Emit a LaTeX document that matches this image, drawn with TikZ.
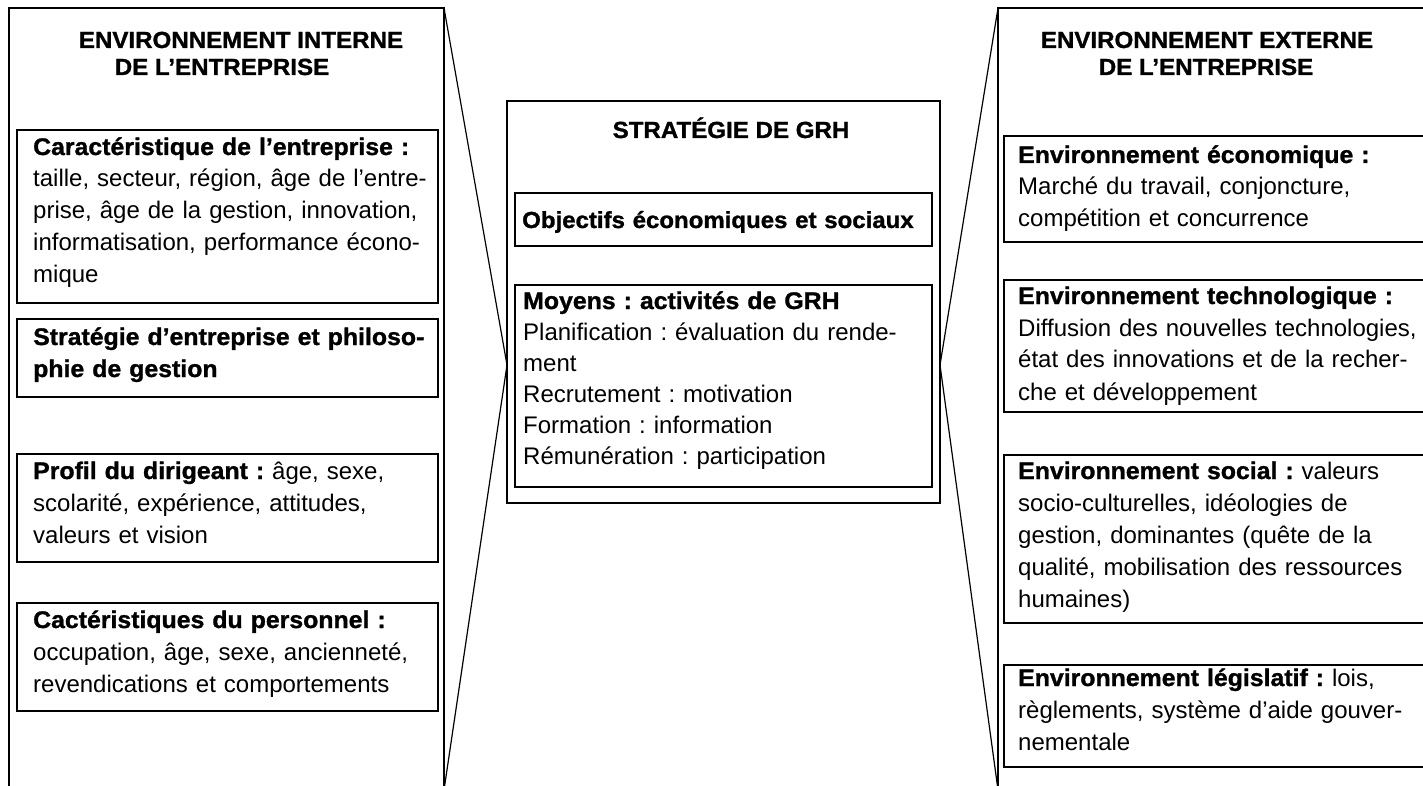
\documentclass[tikz,border=0pt]{standalone}
\usepackage{fontspec}
\setmainfont{Liberation Sans}[BoldFeatures={FakeStretch=1.035,FakeBold=1.2}]
\begin{document}
\frenchspacing
\begin{tikzpicture}[x=1pt,y=-1pt,
  frame/.style={draw, line width=1.2pt},
  ibox/.style={draw, line width=1.1pt, anchor=north west, inner sep=0pt, outer sep=0pt},
  txt/.style={anchor=base west, inner sep=0pt, text width=#1, align=left, font=\fontsize{24}{32}\selectfont},
  txt/.default=400pt,
  mtxt/.style={anchor=base west, inner sep=0pt, text width=420pt, align=left, font=\fontsize{24}{31}\selectfont},
  ttl/.style={anchor=base, inner sep=0pt, font=\fontsize{23.3}{27}\selectfont\bfseries},
]
\useasboundingbox (0,0) rectangle (1423,786);
\clip (0,0) rectangle (1423,786);

% big frames
\coordinate (LTL) at (9,8);
\coordinate (LTR) at (444,8);
\coordinate (LBL) at (9,790);
\coordinate (LBR) at (444,790);
\coordinate (RTL) at (998,8);
\coordinate (RTR) at (1430,8);
\coordinate (RBL) at (998,790);
\coordinate (lapex) at (507,365);
\coordinate (rapex) at (940,365);
\draw[frame] (LBL) -- (LTL) -- (LTR) -- (LBR);
\draw[frame] (RBL) -- (RTL) -- (RTR);
\draw[frame] (LTR) -- (lapex) -- (LBR);
\draw[frame] (RTL) -- (rapex) -- (RBL);

% titles
\node[ttl] (lt1) at (241,48) {ENVIRONNEMENT INTERNE};
\node[ttl] (lt2) at (222,75) {DE L’ENTREPRISE};
\node[ttl] (rt1) at (1207,48) {ENVIRONNEMENT EXTERNE};
\node[ttl] (rt2) at (1206,75) {DE L’ENTREPRISE};

% left boxes
\node[ibox, minimum width=421pt, minimum height=173pt] (l1) at (17,130) {};
\node[ibox, minimum width=421pt, minimum height=78pt] (l2) at (17,319) {};
\node[ibox, minimum width=421pt, minimum height=108pt] (l3) at (17,454) {};
\node[ibox, minimum width=421pt, minimum height=108pt] (l4) at (17,603) {};
\node[txt] (l1t) at (33,155) {\textbf{Caractéristique de l’entreprise :}\\taille, secteur, région, âge de l’entre-\\prise, âge de la gestion, innovation,\\informatisation, performance écono-\\mique};
\node[txt] (l2t) at (33,345) {\textbf{Stratégie d’entreprise et philoso-}\\\textbf{phie de gestion}};
\node[txt] (l3t) at (33,479) {\textbf{Profil du dirigeant :} âge, sexe,\\scolarité, expérience, attitudes,\\valeurs et vision};
\node[txt] (l4t) at (33,628) {\textbf{Cactéristiques du personnel :}\\occupation, âge, sexe, ancienneté,\\revendications et comportements};

% middle
\node[ibox, minimum width=433pt, minimum height=402pt] (mid) at (507,101) {};
\node[ttl] (mt) at (731,138) {STRATÉGIE DE GRH};
\node[ibox, minimum width=417pt, minimum height=53pt] (m1) at (515,193) {};
\node[ibox, minimum width=417pt, minimum height=202pt] (m2) at (515,285) {};
\node[mtxt, font=\fontsize{23.2}{31}\selectfont] (m1t) at (522,228) {\mbox{\textbf{Objectifs économiques et sociaux}}};
\node[mtxt] (m2t) at (523,309) {\textbf{Moyens : activités de GRH}\\Planification : évaluation du rende-\\ment\\Recrutement : motivation\\Formation : information\\Rémunération : participation};

% right boxes
\node[ibox, minimum width=440pt, minimum height=106pt] (r1) at (1004,136) {};
\node[ibox, minimum width=440pt, minimum height=132pt] (r2) at (1004,280) {};
\node[ibox, minimum width=440pt, minimum height=168pt] (r3) at (1004,455) {};
\node[ibox, minimum width=440pt, minimum height=102pt] (r4) at (1004,665) {};
\node[txt] (r1t) at (1018,163) {\textbf{Environnement économique :}\\Marché du travail, conjoncture,\\compétition et concurrence};
\node[txt] (r2t) at (1018,304) {\textbf{Environnement technologique :}\\Diffusion des nouvelles technologies,\\état des innovations et de la recher-\\che et développement};
\node[txt] (r3t) at (1018,479) {\textbf{Environnement social :} valeurs\\socio-culturelles, idéologies de\\gestion, dominantes (quête de la\\qualité, mobilisation des ressources\\humaines)};
\node[txt] (r4t) at (1018,686) {\textbf{Environnement législatif :} lois,\\règlements, système d’aide gouver-\\nementale};
\end{tikzpicture}
\end{document}
